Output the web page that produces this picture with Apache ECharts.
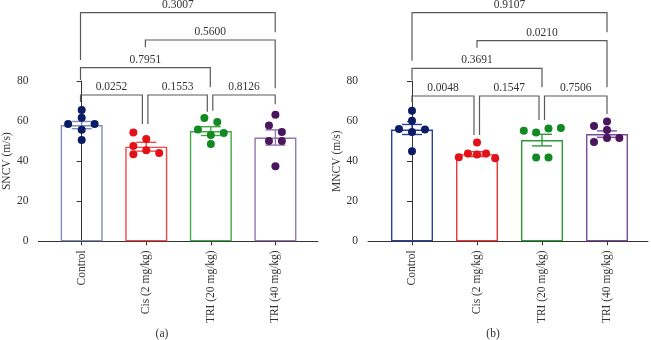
<!DOCTYPE html>
<html><head><meta charset="utf-8">
<script src="https://cdn.jsdelivr.net/npm/echarts@6/dist/echarts.min.js"></script>
<style>html,body{margin:0;padding:0;background:#fff}#c{width:651px;height:340px}</style>
</head><body><div id="c"></div>
<script>
// ---------- data ----------
const categories = ['Control', 'Cis (2 mg/kg)', 'TRI (20 mg/kg)', 'TRI (40 mg/kg)'];
const yTicks = [0, 20, 40, 60, 80];

// Panel (a) SNCV
const sncvPoints = [
  [65.5, 61.6, 58.6, 58.6, 55.7, 50.5],
  [54.3, 51.1, 47.5, 45.5, 43.5, 44.1],
  [61.5, 59.5, 55.8, 54.0, 53.0, 48.6],
  [63.1, 57.8, 54.6, 50.1, 50.1, 37.5]
];
const sncvJitter = [
  [0, 0, -0.21, 0.2, 0, 0],
  [-0.2, 0, -0.2, 0, -0.2, 0.2],
  [-0.1, 0.1, -0.2, 0.2, 0, 0],
  [0, -0.1, 0.1, -0.1, 0.1, 0]
];
const sncvMean = [58.0, 47.2, 55.0, 51.8];
const sncvSem = [1.8, 2.2, 2.2, 3.8];
const sncvP = ['0.0252', '0.1553', '0.8126', '0.7951', '0.5600', '0.3007'];
const sncvBracketY = [73.15, 73.15, 73.15, 86.8, 100.65, 114.3];
const sncvLegEnds = [[69.65, 58.65], [58.65, 64.8], [65.3, 68.5], [80.65, 77], [97, 76.5], [90.65, 104.5]];

// Panel (b) MNCV
const mncvPoints = [
  [65.1, 60.1, 56.1, 55.8, 54.6, 45.0],
  [49.3, 43.8, 43.3, 43.8, 42.0, 41.5],
  [55.2, 54.3, 56.3, 56.6, 41.8, 41.8],
  [59.8, 57.5, 55.5, 49.5, 51.5, 51.5]
];
const mncvJitter = [
  [0, 0, -0.2, 0.2, 0, 0],
  [0, -0.14, 0, 0.14, -0.28, 0.28],
  [-0.28, -0.09, 0.1, 0.29, -0.09, 0.1],
  [0, -0.2, 0, -0.2, 0, 0.19]
];
const mncvMean = [55.8, 43.5, 50.5, 53.5];
const mncvSem = [2.5, 1.2, 2.9, 1.6];
const mncvP = ['0.0048', '0.1547', '0.7506', '0.3691', '0.0210', '0.9107'];
const mncvBracketY = [72.65, 72.65, 72.65, 86.5, 100.3, 114.3];
const mncvLegEnds = [[69.65, 53.15], [53.15, 60.65], [60.65, 63.65], [80.65, 77], [96.8, 77], [90.3, 104.5]];

const bracketPairs = [[0, 1], [1, 2], [2, 3], [0, 2], [1, 3], [0, 3]];

// ---------- styles ----------
const FONT = '"Liberation Serif", "DejaVu Serif", serif';
const FS = 11.5;
const TXT = '#333';
const pointColors = ['#0b1c66', '#e31219', '#118a22', '#4a175e'];
const barColorsA = ['#7f8cbc', '#f24848', '#43a845', '#9475b2'];
const barColorsB = ['#2c3f9e', '#ee3434', '#2f9a38', '#7b4b9d'];

const panels = [
  {name: 'SNCV (m/s)', tag: '(a)', left: 37, width: 281, c0: 80.5, step: 64.9,
   pts: sncvPoints, jit: sncvJitter, mean: sncvMean, sem: sncvSem,
   p: sncvP, by: sncvBracketY, legs: sncvLegEnds, barColors: barColorsA, tagX: 157},
  {name: 'MNCV (m/s)', tag: '(b)', left: 368, width: 280, c0: 412, step: 65,
   pts: mncvPoints, jit: mncvJitter, mean: mncvMean, sem: mncvSem,
   p: mncvP, by: mncvBracketY, legs: mncvLegEnds, barColors: barColorsB, tagX: 488}
];

const grid = [], xAxis = [], yAxis = [], series = [], title = [];
panels.forEach((P, k) => {
  const xmin = (P.left - P.c0) / P.step;
  const xmax = (P.left + P.width - P.c0) / P.step;
  const gMain = k * 2, gOver = k * 2 + 1;
  grid.push({left: P.left, width: P.width, top: 81, height: 160.3});
  grid.push({left: P.left, width: P.width, top: 1.3, height: 240});
  xAxis.push({
    type: 'value', gridIndex: gMain, min: xmin, max: xmax,
    splitLine: {show: false},
    axisLine: {show: true, lineStyle: {color: '#333', width: 1}},
    axisTick: {show: true, length: 4, customValues: [0, 1, 2, 3], lineStyle: {color: '#333'}},
    axisLabel: {show: true, customValues: [0, 1, 2, 3], rotate: 90, margin: 9,
      formatter: v => categories[Math.round(v)], fontFamily: FONT, fontSize: FS, color: TXT}
  });
  xAxis.push({type: 'value', gridIndex: gOver, min: xmin, max: xmax, show: false});
  yAxis.push({
    type: 'value', gridIndex: gMain, min: 0, max: 80, interval: 20,
    name: P.name, nameLocation: 'middle', nameGap: 22,
    nameTextStyle: {fontFamily: FONT, fontSize: FS, color: TXT},
    splitLine: {show: false},
    axisLine: {show: true, lineStyle: {color: '#333', width: 1}},
    axisTick: {show: true, length: 5, customValues: yTicks, lineStyle: {color: '#333'}},
    axisLabel: {customValues: yTicks, margin: 10, fontFamily: FONT, fontSize: FS, color: TXT}
  });
  yAxis.push({type: 'value', gridIndex: gOver, min: 0, max: 120, show: false});

  // bars
  series.push({
    type: 'bar', xAxisIndex: gMain, yAxisIndex: gMain, barWidth: 42, z: 2,
    data: P.mean.map((m, i) => ({value: [i, m], itemStyle: {color: 'rgba(255,255,255,0)', borderColor: P.barColors[i], borderWidth: 1.4}})),
    silent: true, animation: false
  });
  // error bars
  series.push({
    type: 'custom', xAxisIndex: gMain, yAxisIndex: gMain, z: 3, animation: false, silent: true,
    data: P.mean.map((m, i) => [i, m, P.sem[i]]),
    renderItem: (params, api) => {
      const i = api.value(0), m = api.value(1), s = api.value(2);
      const top = api.coord([i, m + s]), bot = api.coord([i, m - s]);
      const col = P.barColors[params.dataIndex];
      const hw = 10;
      const st = {stroke: col, lineWidth: 1.4};
      return {type: 'group', children: [
        {type: 'line', shape: {x1: top[0], y1: top[1], x2: bot[0], y2: bot[1]}, style: st},
        {type: 'line', shape: {x1: top[0] - hw, y1: top[1], x2: top[0] + hw, y2: top[1]}, style: st},
        {type: 'line', shape: {x1: bot[0] - hw, y1: bot[1], x2: bot[0] + hw, y2: bot[1]}, style: st}
      ]};
    }
  });
  // points
  const sd = [];
  P.pts.forEach((arr, i) => arr.forEach((v, j) => sd.push({value: [i + P.jit[i][j], v], itemStyle: {color: pointColors[i], opacity: 1}})));
  series.push({
    type: 'scatter', xAxisIndex: gMain, yAxisIndex: gMain, symbolSize: 8, z: 4,
    itemStyle: {opacity: 1},
    data: sd, animation: false, silent: true
  });
  // brackets
  const brackets = bracketPairs.map((pr, b) => {
    const low = P.by[b] === Math.min(...P.by);
    let sL = false, sR = false;
    if (low) bracketPairs.forEach((q, c) => {
      if (c !== b && P.by[c] === P.by[b]) { if (q[1] === pr[0]) sL = true; if (q[0] === pr[1]) sR = true; }
    });
    return {value: [pr[0], pr[1], P.by[b], P.legs[b][0], P.legs[b][1]], label: P.p[b], sL, sR};
  });
  series.push({
    type: 'custom', xAxisIndex: gOver, yAxisIndex: gOver, z: 5, clip: false, animation: false, silent: true,
    data: brackets.map(b => b.value),
    renderItem: (params, api) => {
      const b = brackets[params.dataIndex];
      const i = api.value(0), j = api.value(1), y = api.value(2);
      const pA = api.coord([i, y]), pB = api.coord([j, y]);
      const lE = api.coord([i, api.value(3)]), rE = api.coord([j, api.value(4)]);
      let xa = pA[0], xb = pB[0];
      if (b.sL) xa += 2.5;
      if (b.sR) xb -= 3;
      return {type: 'group', children: [
        {type: 'polyline', shape: {points: [[xa, lE[1]], [xa, pA[1]], [xb, pB[1]], [xb, rE[1]]]},
         style: {stroke: '#5a5a5a', lineWidth: 1.2, fill: null}},
        {type: 'text', x: (xa + xb) / 2, y: pA[1] - 8,
         style: {text: b.label, align: 'center', verticalAlign: 'middle', font: FS + 'px ' + FONT, fill: TXT}}
      ]};
    }
  });
  title.push({text: P.tag, left: P.tagX, top: 323, textAlign: 'center',
    textStyle: {fontFamily: FONT, fontSize: FS, fontWeight: 'normal', color: TXT}});
});

const chart = echarts.init(document.getElementById('c'), null, {renderer: 'canvas'});
chart.setOption({backgroundColor: '#fff', animation: false, title, grid, xAxis, yAxis, series});
</script></body></html>
